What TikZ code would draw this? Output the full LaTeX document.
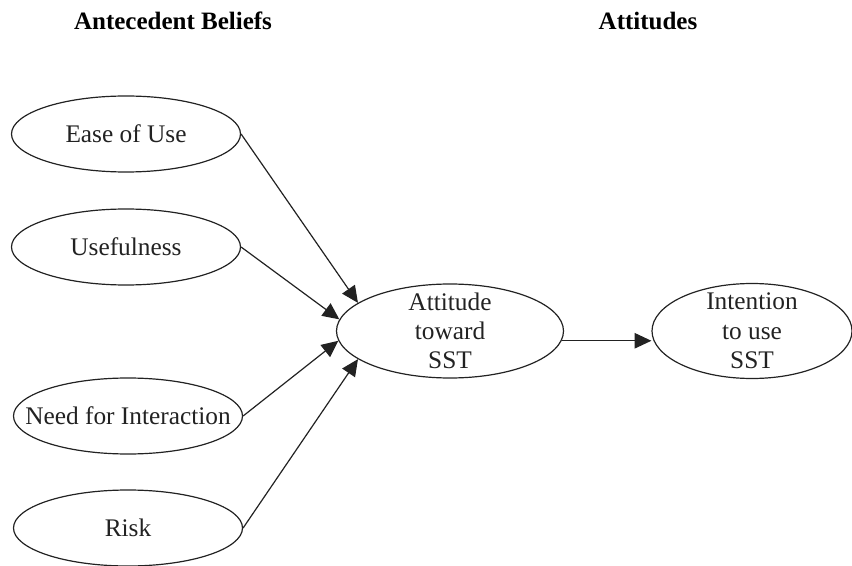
\documentclass[tikz,border=0pt]{standalone}
\usepackage{fontspec}
\setmainfont{Liberation Serif}
\usepackage{tikz}
\usetikzlibrary{arrows.meta,shapes.geometric}
\definecolor{ink}{HTML}{222222}
\tikzset{
  oval/.style={ellipse, draw=ink, line width=0.9pt, inner sep=0pt,
               minimum width=171.75pt, minimum height=57pt},
  bigoval/.style={oval, minimum height=70.5pt},
  txt/.style={font=\fontsize{19}{22}\selectfont, text=ink, align=center, inner sep=0pt},
  head/.style={font=\fontsize{18.75}{22}\selectfont\bfseries, text=black},
  arr/.style={-{Triangle[length=12.5pt, width=11.5pt]}, line width=0.9pt, draw=ink},
}

\begin{document}
\begin{tikzpicture}[x=0.75pt, y=-0.75pt]
  \useasboundingbox (0,0) rectangle (852,566);
  % column headings
  \node[head] (hbel) at (173,21) {Antecedent Beliefs};
  \node[head] (hatt) at (648,21) {Attitudes};
  % beliefs
  \node[oval, label={[txt]center:Ease of Use}] (ease) at (126,134) {};
  \node[oval, label={[txt]center:Usefulness}] (usef) at (126,247) {};
  \node[oval, label={[txt]center:Need for Interaction}] (need) at (128,416) {};
  \node[oval, label={[txt]center:Risk}] (risk) at (128,528) {};
  % attitudes
  \node[bigoval, minimum width=170.25pt, label={[txt]center:{Attitude\\toward\\SST}}] (att) at (450,331) {};
  \node[bigoval, minimum width=150pt, minimum height=71.25pt, label={[txt]center:{Intention\\to use\\SST}}] (int) at (752,331) {};
  \draw[arr] (ease.east) -- (att.163);
  \draw[arr] (usef.east) -- (att.174);
  \draw[arr] (need.east) -- (att.185);
  \draw[arr] (risk.east) -- (att.197);
  \draw[arr] (att.-5) -- (att.-5 -| int.west);
\end{tikzpicture}
\end{document}
